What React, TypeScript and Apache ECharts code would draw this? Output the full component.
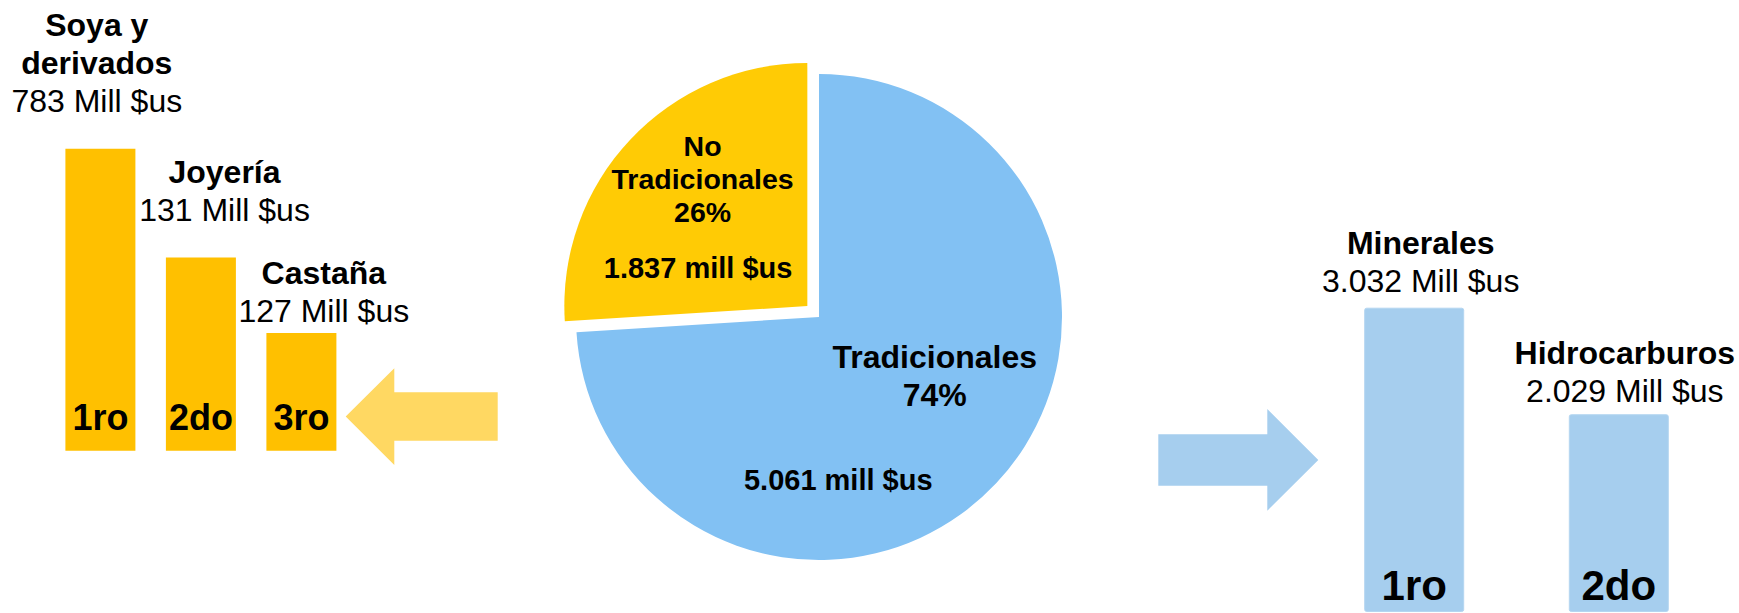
import React, { useEffect, useRef } from "react";
import * as echarts from "echarts";

// ---- Data ----
const leftCategories = ["Soya y\nderivados", "Joyería", "Castaña"];
const leftAmounts = ["783", "131", "127"];
const leftRanks = ["1ro", "2do", "3ro"];
// drawn bar heights (infographic, not to scale), index 0-100
const leftBarLevels = [100, 64, 39];

const rightCategories = ["Minerales", "Hidrocarburos"];
const rightAmounts = ["3.032", "2.029"];
const rightRanks = ["1ro", "2do"];
const rightBarLevels = [100, 65];

const pieNames = ["Tradicionales", "No Tradicionales"];
const pieLabelNames = ["Tradicionales", "No\nTradicionales"];
const pieShares = [74, 26];
const pieAmounts = ["5.061", "1.837"];

const FONT = '"Liberation Sans", Arial, Helvetica, sans-serif';
const pieColors = ["#82C1F3", "#FFCB05"];

export default function App() {
  const ref = useRef<HTMLDivElement>(null);

  useEffect(() => {
    document.body.style.margin = "0";
    if (!ref.current) return;
    const chart = echarts.init(ref.current, undefined, { renderer: "svg" });

    const leftLabelOffsets = [[-3.6, -24], [23.6, -23], [22.4, 2.5]];
    const rightLabelOffsets = [[6.5, -3], [6, 1]];
    const pieTitleShift = [[25, -26.5], [-14, -42]];
    const pieAmountShift = [[-71.5, 78], [-18.5, 47]];

    const nameRich = {
      n: { fontSize: 32, fontWeight: "bold", lineHeight: 38, color: "#000", fontFamily: FONT },
      v: { fontSize: 32, fontWeight: "normal", lineHeight: 38, color: "#000", fontFamily: FONT },
    };

    const option: any = {
      animation: false,
      backgroundColor: "#ffffff",
      textStyle: { fontFamily: FONT },
      grid: [
        { left: 50.15, top: 148.7, width: 301.5, height: 302, outerBoundsMode: "none" },
        { left: 1311.9, top: 307.7, width: 409.2, height: 304.3, outerBoundsMode: "none" },
      ],
      xAxis: [
        { gridIndex: 0, type: "category", data: leftCategories, show: false },
        { gridIndex: 1, type: "category", data: rightCategories, show: false },
      ],
      yAxis: [
        { gridIndex: 0, type: "value", min: 0, max: 100, show: false },
        { gridIndex: 1, type: "value", min: 0, max: 100, show: false },
      ],
      graphic: [
        {
          type: "polygon",
          silent: true,
          shape: {
            points: [
              [345.7, 416.5], [394.3, 368.3], [394.3, 392.3], [497.7, 392.3],
              [497.7, 440.7], [394.3, 440.7], [394.3, 465],
            ],
          },
          style: { fill: "#FFD862" },
        },
        {
          type: "polygon",
          silent: true,
          shape: {
            points: [
              [1158.3, 434.3], [1267.3, 434.3], [1267.3, 409], [1318.3, 460],
              [1267.3, 510.7], [1267.3, 485.7], [1158.3, 485.7],
            ],
          },
          style: { fill: "#A6CEEE" },
        },
      ],
      series: [
        {
          type: "bar",
          xAxisIndex: 0,
          yAxisIndex: 0,
          barWidth: 70,
          barGap: "-100%",
          silent: true,
          itemStyle: { color: "#FFC000" },
          data: leftBarLevels.map((v, i) => ({ value: v, label: { offset: leftLabelOffsets[i] } })),
          label: {
            show: true,
            position: "top",
            distance: 5,
            formatter: (p: any) =>
              `{n|${leftCategories[p.dataIndex]}}\n{v|${leftAmounts[p.dataIndex]} Mill $us}`,
            rich: nameRich,
          },
        },
        {
          type: "bar",
          xAxisIndex: 0,
          yAxisIndex: 0,
          barWidth: 70,
          barGap: "-100%",
          silent: true,
          z: 3,
          itemStyle: { color: "rgba(0,0,0,0)" },
          data: leftBarLevels,
          label: {
            show: true,
            position: "insideBottom",
            distance: 15,
            formatter: (p: any) => leftRanks[p.dataIndex],
            fontSize: 36,
            fontWeight: "bold",
            color: "#000",
            fontFamily: FONT,
          },
        },
        {
          type: "bar",
          xAxisIndex: 1,
          yAxisIndex: 1,
          barWidth: 100,
          barGap: "-100%",
          silent: true,
          itemStyle: { color: "#A6CEEE", borderColor: "#B4D6F1", borderWidth: 1, borderRadius: 2 },
          data: rightBarLevels.map((v, i) => ({ value: v, label: { offset: rightLabelOffsets[i] } })),
          label: {
            show: true,
            position: "top",
            distance: 5,
            formatter: (p: any) =>
              `{n|${rightCategories[p.dataIndex]}}\n{v|${rightAmounts[p.dataIndex]} Mill $us}`,
            rich: nameRich,
          },
        },
        {
          type: "bar",
          xAxisIndex: 1,
          yAxisIndex: 1,
          barWidth: 100,
          barGap: "-100%",
          silent: true,
          z: 3,
          itemStyle: { color: "rgba(0,0,0,0)" },
          data: rightBarLevels,
          label: {
            show: true,
            position: "insideBottom",
            distance: 6,
            formatter: (p: any) => rightRanks[p.dataIndex],
            fontSize: 42,
            fontWeight: "bold",
            color: "#000",
            fontFamily: FONT,
          },
        },
        {
          type: "pie",
          center: [819, 317],
          radius: 243,
          startAngle: 90,
          clockwise: true,
          selectedMode: "single",
          selectedOffset: 16,
          silent: true,
          avoidLabelOverlap: false,
          emphasis: { disabled: true },
          labelLine: { show: false },
          data: pieNames.map((n, i) => ({
            name: n,
            value: pieShares[i],
            selected: i === 1,
            itemStyle: { color: pieColors[i] },
            label: i === 0 ? { fontSize: 32, lineHeight: 38 } : { fontSize: 28.5, lineHeight: 33 },
          })),
          label: {
            show: true,
            position: "inside",
            formatter: (p: any) => `${pieLabelNames[p.dataIndex]}\n${pieShares[p.dataIndex]}%`,
            color: "#000",
            fontWeight: "bold",
            fontFamily: FONT,
            textBorderWidth: 0,
          },
          labelLayout: (p: any) => ({ dx: pieTitleShift[p.dataIndex][0], dy: pieTitleShift[p.dataIndex][1] }),
        },
        {
          type: "pie",
          center: [819, 317],
          radius: 243,
          startAngle: 90,
          clockwise: true,
          selectedMode: "single",
          selectedOffset: 16,
          silent: true,
          z: 3,
          avoidLabelOverlap: false,
          emphasis: { disabled: true },
          labelLine: { show: false },
          itemStyle: { color: "rgba(0,0,0,0)" },
          data: pieNames.map((n, i) => ({
            name: n,
            value: pieShares[i],
            selected: i === 1,
          })),
          label: {
            show: true,
            position: "inside",
            formatter: (p: any) => `${pieAmounts[p.dataIndex]} mill $us`,
            color: "#000",
            fontWeight: "bold",
            fontSize: 29,
            fontFamily: FONT,
            textBorderWidth: 0,
          },
          labelLayout: (p: any) => ({ dx: pieAmountShift[p.dataIndex][0], dy: pieAmountShift[p.dataIndex][1] }),
        },
      ],
    };

    chart.setOption(option);
    return () => chart.dispose();
  }, []);

  return <div ref={ref} style={{ width: 1739, height: 613 }} />;
}
